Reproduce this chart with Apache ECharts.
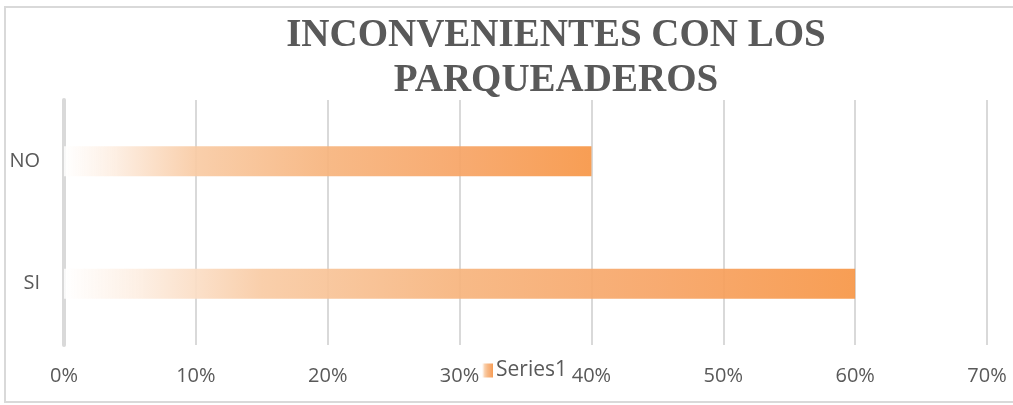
<!DOCTYPE html>
<html>
<head>
<meta charset="utf-8">
<script src="https://cdn.jsdelivr.net/npm/echarts@6/dist/echarts.min.js"></script>
<style>
	html, body { margin: 0; padding: 0; background: #fff; }
	#main { width: 1013px; height: 405px; }
</style>
</head>
<body>
<div id="main"></div>
<script>
	// chart data
	var categories = ['SI', 'NO'];
	var seriesName = 'Series1';
	var seriesValues = [0.60, 0.40];
	var tickMax = 0.7;
	var tickStep = 0.1;

	var labelColor = '#595959';
	var gridColor = '#d9d9d9';

	var chart = echarts.init(document.getElementById('main'));

	// white -> orange fade along each bar
	var barFill = new echarts.graphic.LinearGradient(0, 0, 1, 0, [
		{offset: 0, color: 'rgba(255,255,255,0.9)'},
		{offset: 0.1, color: '#fdede0'},
		{offset: 0.25, color: '#f9cba4'},
		{offset: 0.5, color: '#f7b47d'},
		{offset: 0.75, color: '#f7a465'},
		{offset: 1, color: '#f79646'}
	]);

	var option = {
		animation: false,
		title: {
			text: 'INCONVENIENTES CON LOS\nPARQUEADEROS',
			left: 551,
			top: 8,
			textAlign: 'center',
			textStyle: {
				fontFamily: '"Liberation Serif", "Times New Roman", serif',
				fontWeight: 'bold',
				fontSize: 39,
				lineHeight: 45,
				color: labelColor
			}
		},
		legend: {
			data: [seriesName],
			left: 477,
			top: 355,
			itemWidth: 11,
			itemHeight: 14,
			itemGap: 4,
			icon: 'rect',
			textStyle: {
				fontFamily: '"Open Sans", sans-serif',
				fontSize: 21,
				color: labelColor,
				padding: [0, 0, 0, -2]
			}
		},
		graphic: [{
			type: 'rect',
			silent: true,
			shape: {x: 5, y: 7, width: 1030, height: 395},
			style: {fill: 'none', stroke: gridColor, lineWidth: 2}
		}],
		grid: {
			left: 64,
			right: 26,
			top: 100,
			bottom: 60,
			containLabel: false
		},
		xAxis: {
			type: 'value',
			min: 0,
			max: tickMax,
			interval: tickStep,
			axisLine: {show: false},
			axisTick: {show: false},
			splitLine: {lineStyle: {color: gridColor, width: 2}},
			axisLabel: {
				margin: 21,
				fontFamily: '"Open Sans", sans-serif',
				fontSize: 20,
				color: labelColor,
				formatter: function (v) {
					return Math.round(v * 100) + '%';
				}
			}
		},
		yAxis: {
			type: 'category',
			data: categories,
			axisLine: {show: true, lineStyle: {color: gridColor, width: 4}},
			axisTick: {show: false},
			axisLabel: {
				margin: 24,
				fontFamily: '"Open Sans", sans-serif',
				fontSize: 20,
				color: labelColor
			}
		},
		series: [{
			name: seriesName,
			type: 'bar',
			barWidth: 30,
			data: seriesValues,
			itemStyle: {color: barFill, opacity: 0.92}
		}]
	};

	chart.setOption(option);
</script>
</body>
</html>
